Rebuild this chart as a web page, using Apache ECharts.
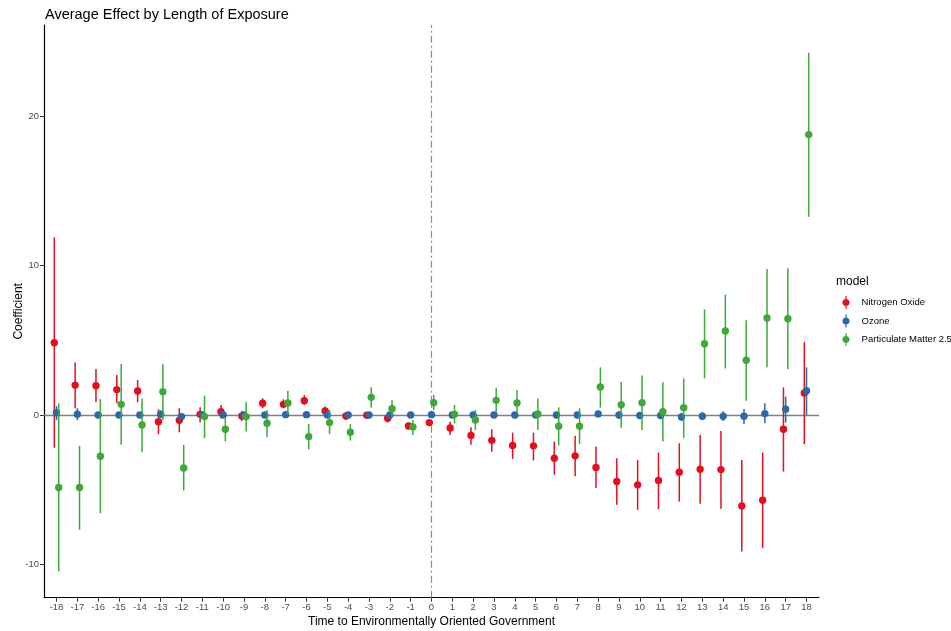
<!DOCTYPE html>
<html>
<head>
<meta charset="utf-8">
<script src="https://cdn.jsdelivr.net/npm/echarts@6/dist/echarts.min.js"></script>
<style>
  html, body { margin: 0; padding: 0; background: #fff; }
  #chart { width: 951px; height: 631px; }
</style>
</head>
<body>
<div id="chart"></div>
<script>
// Event time relative to the change of government
const periods = [-18,-17,-16,-15,-14,-13,-12,-11,-10,-9,-8,-7,-6,-5,-4,-3,-2,-1,0,1,2,3,4,5,6,7,8,9,10,11,12,13,14,15,16,17,18];

// Nitrogen Oxide: estimate, lower and upper bound
const noxEst = [4.84,2.0,1.96,1.7,1.6,-0.45,-0.36,0.04,0.22,-0.07,0.78,0.71,0.96,0.27,-0.07,-0.02,-0.22,-0.74,-0.51,-0.87,-1.38,-1.7,-2.05,-2.07,-2.9,-2.74,-3.52,-4.46,-4.68,-4.39,-3.83,-3.63,-3.66,-6.09,-5.71,-0.96,1.47];
const noxLo  = [-2.19,0.45,0.85,0.78,0.85,-1.29,-1.16,-0.49,-0.22,-0.4,0.45,0.45,0.67,0.0,-0.35,-0.25,-0.51,-0.95,-0.7,-1.34,-2.0,-2.47,-2.94,-3.05,-4.01,-4.1,-4.9,-6.02,-6.35,-6.31,-5.8,-5.95,-6.29,-9.14,-8.92,-3.79,-1.96];
const noxHi  = [11.9,3.52,3.08,2.68,2.34,0.38,0.45,0.51,0.67,0.26,1.11,1.05,1.34,0.56,0.2,0.2,0.07,-0.52,-0.32,-0.45,-0.83,-0.96,-1.18,-1.18,-1.78,-1.4,-2.12,-2.9,-3.01,-2.52,-1.9,-1.34,-1.07,-3.01,-2.52,1.85,4.88];

// Ozone
const ozEst = [0.15,0.05,0.0,0.0,0.0,0.05,-0.11,0.0,0.0,0.0,0.0,0.02,0.02,0.0,0.0,0.0,0.0,0.0,0.02,0.0,0.0,0.0,0.0,0.0,0.0,0.0,0.07,0.0,-0.04,-0.04,-0.13,-0.09,-0.09,-0.09,0.09,0.38,1.63];
const ozLo  = [-0.35,-0.35,-0.2,-0.2,-0.2,-0.2,-0.3,-0.2,-0.2,-0.2,-0.2,-0.18,-0.18,-0.2,-0.2,-0.2,-0.2,-0.2,-0.18,-0.2,-0.2,-0.2,-0.2,-0.2,-0.2,-0.2,-0.15,-0.25,-0.25,-0.25,-0.4,-0.35,-0.4,-0.6,-0.56,-0.51,0.0];
const ozHi  = [0.6,0.45,0.2,0.2,0.2,0.3,0.1,0.2,0.2,0.2,0.2,0.22,0.22,0.2,0.2,0.2,0.2,0.2,0.22,0.2,0.2,0.2,0.2,0.2,0.2,0.2,0.3,0.25,0.2,0.2,0.15,0.2,0.25,0.4,0.78,1.23,3.19];

// Particulate Matter 2.5
const pmEst = [-4.86,-4.86,-2.77,0.71,-0.67,1.56,-3.55,-0.11,-0.96,-0.11,-0.56,0.8,-1.45,-0.51,-1.16,1.18,0.42,-0.8,0.82,0.04,-0.33,0.98,0.8,0.07,-0.76,-0.76,1.87,0.69,0.82,0.22,0.49,4.77,5.62,3.66,6.49,6.44,18.78];
const pmLo  = [-10.48,-7.69,-6.58,-2.0,-2.5,-0.33,-5.06,-1.56,-1.78,-1.11,-1.49,0.0,-2.3,-1.27,-1.72,0.49,-0.1,-1.34,0.33,-0.56,-1.0,0.22,0.07,-1.0,-2.05,-1.94,0.49,-0.85,-1.0,-1.78,-1.56,2.45,3.12,0.96,3.19,3.06,13.27];
const pmHi  = [0.78,-2.07,1.07,3.41,1.11,3.39,-2.0,1.29,-0.22,0.89,0.33,1.63,-0.6,0.33,-0.6,1.85,1.0,-0.33,1.34,0.67,0.33,1.83,1.67,1.11,0.51,0.45,3.19,2.2,2.65,2.19,2.45,7.07,8.07,6.35,9.77,9.83,24.26];

const yTicks = [-10, 0, 10, 20];

const models = [
  { name: 'Nitrogen Oxide',         color: '#E2101E', est: noxEst, lo: noxLo, hi: noxHi, dodge: -2.2 },
  { name: 'Ozone',                  color: '#2C67AB', est: ozEst,  lo: ozLo,  hi: ozHi,  dodge: 0 },
  { name: 'Particulate Matter 2.5', color: '#3FA83B', est: pmEst,  lo: pmLo,  hi: pmHi,  dodge: 2.2 }
];

const FONT = 'Liberation Sans, Arial, sans-serif';

// Key glyph: a short vertical range line with a dot in the middle
const keyIcon = 'path://M3,0L4.2,0L4.2,13L3,13Z' +
  'M7.2,6.5C7.2,8.488 5.588,10.1 3.6,10.1C1.612,10.1 0,8.488 0,6.5C0,4.512 1.612,2.9 3.6,2.9C5.588,2.9 7.2,4.512 7.2,6.5Z';

function pointRange(dodge) {
  return function (params, api) {
    const x = api.value(0);
    const p = api.coord([x, api.value(1)]);
    const lo = api.coord([x, api.value(2)]);
    const hi = api.coord([x, api.value(3)]);
    const cx = p[0] + dodge;
    const color = api.visual('color');
    return {
      type: 'group',
      children: [
        { type: 'line', shape: { x1: cx, y1: hi[1], x2: cx, y2: lo[1] },
          style: { stroke: color, lineWidth: 1.5 } },
        { type: 'circle', shape: { cx: cx, cy: p[1], r: 3.7 },
          style: { fill: color } }
      ]
    };
  };
}

const series = models.map(function (m) {
  return {
    name: m.name,
    type: 'custom',
    z: 5,
    itemStyle: { color: m.color },
    renderItem: pointRange(m.dodge),
    encode: { x: 0, y: [1, 2, 3] },
    data: periods.map(function (t, i) { return [t, m.est[i], m.lo[i], m.hi[i]]; })
  };
});

// Reference lines: zero effect and the change of government
series.unshift({
  type: 'line',
  z: 1,
  data: [],
  silent: true,
  markLine: {
    silent: true,
    symbol: 'none',
    label: { show: false },
    animation: false,
    data: [
      { yAxis: 0, lineStyle: { color: '#7F7F7F', width: 1.3, type: 'solid' } },
      { xAxis: 0, lineStyle: { color: '#8C8C8C', width: 1.2, type: [7, 3, 2, 3] } }
    ]
  }
});

const chart = echarts.init(document.getElementById('chart'), null, { renderer: 'canvas' });
chart.setOption({
  animation: false,
  backgroundColor: '#ffffff',
  textStyle: { fontFamily: FONT },
  title: {
    text: 'Average Effect by Length of Exposure',
    left: 40,
    top: 2,
    textStyle: { fontSize: 14.5, fontWeight: 'normal', color: '#000', fontFamily: FONT }
  },
  graphic: [{
    type: 'text',
    left: 836,
    top: 276,
    style: { text: 'model', fontSize: 12, fill: '#000', fontFamily: FONT }
  }],
  legend: {
    orient: 'vertical',
    left: 842.4,
    top: 296,
    padding: 0,
    itemWidth: 7.2,
    itemHeight: 13,
    itemGap: 5.5,
    icon: keyIcon,
    selectedMode: false,
    textStyle: { fontSize: 9.5, color: '#000', padding: [0, 0, 0, 7], fontFamily: FONT },
    data: models.map(function (m) { return m.name; })
  },
  grid: { left: 44, right: 132, top: 25, bottom: 33.3, containLabel: false, outerBoundsMode: 'none' },
  xAxis: {
    type: 'value',
    min: -18.6,
    max: 18.6,
    name: 'Time to Environmentally Oriented Government',
    nameLocation: 'middle',
    nameGap: 18,
    nameMoveOverlap: false,
    nameTextStyle: { fontSize: 12, color: '#000', verticalAlign: 'top', fontFamily: FONT },
    axisLine: { show: true, onZero: false, lineStyle: { color: '#000', width: 1.2 } },
    axisTick: { show: true, customValues: periods, length: 4, lineStyle: { color: '#333', width: 1 } },
    axisLabel: { customValues: periods, fontSize: 9.5, color: '#4D4D4D', margin: 5, fontFamily: FONT },
    splitLine: { show: false }
  },
  yAxis: {
    type: 'value',
    min: -12.24,
    max: 26.12,
    name: 'Coefficient',
    nameLocation: 'middle',
    nameGap: 19,
    nameMoveOverlap: false,
    nameTextStyle: { fontSize: 12, color: '#000', fontFamily: FONT },
    axisLine: { show: true, onZero: false, lineStyle: { color: '#000', width: 1.2 } },
    axisTick: { show: true, customValues: yTicks, length: 4, lineStyle: { color: '#333', width: 1 } },
    axisLabel: { customValues: yTicks, fontSize: 9.5, color: '#4D4D4D', margin: 5, fontFamily: FONT },
    splitLine: { show: false }
  },
  series: series
});
</script>
</body>
</html>
